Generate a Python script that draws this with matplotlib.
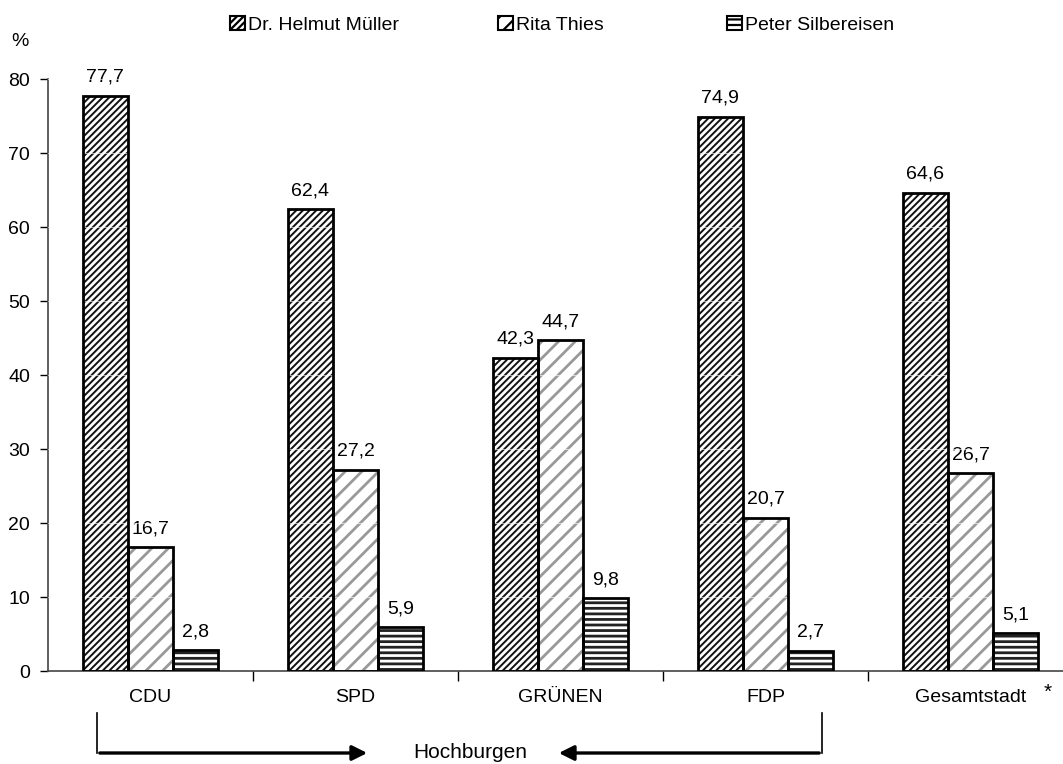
import numpy as np
import matplotlib
matplotlib.use('Agg')
import matplotlib.pyplot as plt
from matplotlib.patches import Rectangle, FancyArrowPatch

plt.rcParams['font.family'] = ['Liberation Sans', 'DejaVu Sans']
plt.rcParams['hatch.linewidth'] = 1.6

# Daten
kategorien = ['CDU', 'SPD', 'GRÜNEN', 'FDP', 'Gesamtstadt']
serien = ['Dr. Helmut Müller', 'Rita Thies', 'Peter Silbereisen']
mueller = [77.7, 62.4, 42.3, 74.9, 64.6]
thies = [16.7, 27.2, 44.7, 20.7, 26.7]
silbereisen = [2.8, 5.9, 9.8, 2.7, 5.1]
y_ticks = [0, 10, 20, 30, 40, 50, 60, 70, 80]

werte = [mueller, thies, silbereisen]
schraffur = ['/////', '//', '---']
hatch_farbe = ['#111111', '#999999', '#222222']
hatch_lw = [1.4, 2.0, 2.0]

fig = plt.figure(figsize=(10.63, 7.64), dpi=100)
ax = fig.add_axes([48 / 1063, 93 / 764, 1025 / 1063, 592 / 764])

x = np.arange(len(kategorien))
breite = 0.22
for i, (vals, h, hc) in enumerate(zip(werte, schraffur, hatch_farbe)):
    pos = x + (i - 1) * breite
    bars = ax.bar(pos, vals, breite, facecolor='white', edgecolor=hc,
                  hatch=h, linewidth=0, zorder=2)
    for b in bars:
        if hasattr(b, 'set_hatch_linewidth'):
            b.set_hatch_linewidth(hatch_lw[i])
    # schwarzer Rahmen
    ax.bar(pos, vals, breite, facecolor='none', edgecolor='black',
           linewidth=2, zorder=4)
    for p, v in zip(pos, vals):
        ax.text(p, v + 1.9, f'{v:.1f}'.replace('.', ','), ha='center',
                va='baseline', fontsize=14)

# helle Gitterlinien (nur in den Balken sichtbar)
for t in y_ticks[1:]:
    ax.axhline(t, color='white', linewidth=0.8, alpha=0.6, zorder=3)

ax.set_xlim(-0.5, 4.5)
ax.set_ylim(0, 80)
ax.set_yticks(y_ticks)
ax.tick_params(axis='y', labelsize=14, length=6, width=1, pad=7)
ax.set_xticks(x)
ax.set_xticklabels(kategorien, fontsize=14)
ax.tick_params(axis='x', length=0, pad=13)
ax.set_xticks(np.arange(0.5, 4.5, 1), minor=True)
ax.tick_params(axis='x', which='minor', length=7, width=1, direction='out')
for s in ['top', 'right']:
    ax.spines[s].set_visible(False)
for s in ['left', 'bottom']:
    ax.spines[s].set_color('#444444')
    ax.spines[s].set_linewidth(1.2)

fig.text(20 / 1063, 1 - 42 / 764, '%', fontsize=14, ha='center', va='center')
fig.text(1048 / 1063, 1 - 692 / 764, '*', fontsize=15, ha='center', va='center')

# Legende (drei Einträge, ungleich verteilt)
leg_x = [230, 498, 727]
for i, lx in enumerate(leg_x):
    handle = Rectangle((0, 0), 1, 1, facecolor='white', edgecolor=hatch_farbe[i],
                       hatch=schraffur[i], linewidth=1.5)
    leg = fig.legend([handle], [serien[i]], loc='center left',
                     bbox_to_anchor=(lx / 1063, 1 - 25 / 764), frameon=False,
                     fontsize=14, handlelength=0.75, handleheight=0.75,
                     handletextpad=0.2, borderpad=0, borderaxespad=0)
    for p in leg.get_patches():
        p.set_edgecolor('black')

# Hochburgen-Pfeile
y_pf = 1 - 753 / 764
y_oben = 1 - 713 / 764
fig.add_artist(plt.Line2D([97 / 1063, 97 / 1063], [y_oben, y_pf], color='black', lw=1.2))
fig.add_artist(plt.Line2D([822 / 1063, 822 / 1063], [y_oben, y_pf], color='black', lw=1.2))
fig.patches.append(FancyArrowPatch(
    (97 / 1063, y_pf), (370 / 1063, y_pf), transform=fig.transFigure,
    arrowstyle='-|>,head_length=9,head_width=4.5', color='black', lw=2.4))
fig.patches.append(FancyArrowPatch(
    (822 / 1063, y_pf), (556 / 1063, y_pf), transform=fig.transFigure,
    arrowstyle='-|>,head_length=9,head_width=4.5', color='black', lw=2.4))
fig.text(470 / 1063, y_pf, 'Hochburgen', fontsize=15, ha='center', va='center')

fig.savefig('out.png', dpi=100)
